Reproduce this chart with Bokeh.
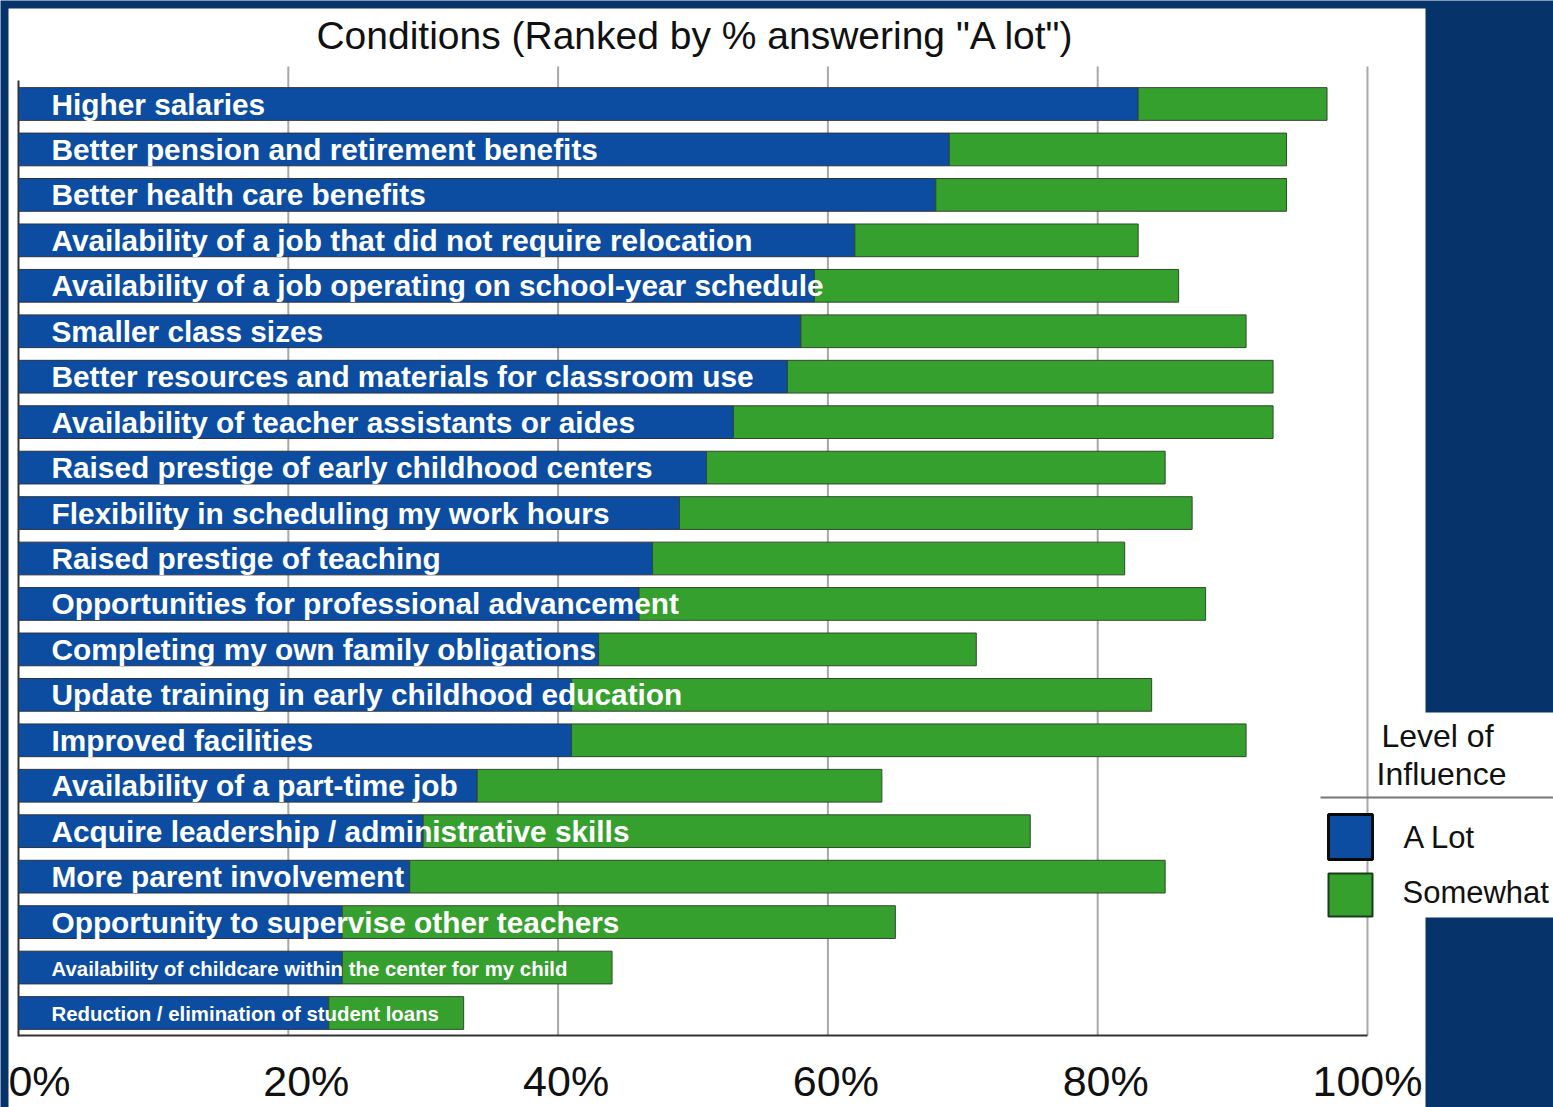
from bokeh.plotting import figure
from bokeh.models import Range1d, ColumnDataSource
from bokeh.core.properties import value
from bokeh.embed import file_html
from bokeh.resources import INLINE

# ---------------- data ----------------
conditions = [
    "Higher salaries",
    "Better pension and retirement benefits",
    "Better health care benefits",
    "Availability of a job that did not require relocation",
    "Availability of a job operating on school-year schedule",
    "Smaller class sizes",
    "Better resources and materials for classroom use",
    "Availability of teacher assistants or aides",
    "Raised prestige of early childhood centers",
    "Flexibility in scheduling my work hours",
    "Raised prestige of teaching",
    "Opportunities for professional advancement",
    "Completing my own family obligations",
    "Update training in early childhood education",
    "Improved facilities",
    "Availability of a part-time job",
    "Acquire leadership / administrative skills",
    "More parent involvement",
    "Opportunity to supervise other teachers",
    "Availability of childcare within the center for my child",
    "Reduction / elimination of student loans",
]
a_lot = [83, 69, 68, 62, 59, 58, 57, 53, 51, 49, 47, 46, 43, 41, 41, 34, 30, 29, 24, 24, 23]
somewhat = [14, 25, 26, 21, 27, 33, 36, 40, 34, 38, 35, 42, 28, 43, 50, 30, 45, 56, 41, 20, 10]
tick_values = [0, 20, 40, 60, 80, 100]
tick_labels = ["0%", "20%", "40%", "60%", "80%", "100%"]
title_text = 'Conditions (Ranked by % answering "A lot")'
legend_title = ["Level of", "Influence"]
legend_items = ["A Lot", "Somewhat"]

# ---------------- styling ----------------
W, H = 1553, 1107
NAVY = "#05336a"
BLUE = "#0c4da2"
GREEN = "#36a02f"
FONT = value("Liberation Sans")

X0, XS = 18.0, 13.49      # px of 0 %, px per %
Y0, YS = 103.5, 45.45     # px of first row centre, px per row


def px2x(px):
    return (px - X0) / XS


def px2y(py):
    return (py - Y0) / YS


p = figure(width=W, height=H, output_backend="svg", toolbar_location=None,
           x_axis_type=None, y_axis_type=None,
           x_range=Range1d(px2x(0), px2x(W)),
           y_range=Range1d(px2y(H), px2y(0)),
           min_border=0, min_border_left=0, min_border_right=0,
           min_border_top=0, min_border_bottom=0)
p.outline_line_color = None
p.background_fill_color = NAVY
p.border_fill_color = NAVY
p.xgrid.visible = False
p.ygrid.visible = False

# white panels
p.quad(left=[px2x(8)], right=[px2x(1425)], top=[px2y(8)], bottom=[px2y(H + 5)],
       fill_color="white", line_color=None)
p.quad(left=[px2x(1320)], right=[px2x(W + 5)], top=[px2y(712)], bottom=[px2y(917)],
       fill_color="white", line_color=None)

# grid lines
grid_x = tick_values[1:]
p.segment(x0=grid_x, x1=grid_x, y0=[px2y(66)] * len(grid_x), y1=[px2y(1035)] * len(grid_x),
          line_color="#a8a8a8", line_width=2)
# axis lines
p.segment(x0=[0], x1=[0], y0=[px2y(80)], y1=[px2y(1036)], line_color="#333333", line_width=2)
p.segment(x0=[0], x1=[100], y0=[px2y(1035)], y1=[px2y(1035)], line_color="#333333", line_width=2)

# bars
rows = list(range(len(conditions)))
totals = [a + s for a, s in zip(a_lot, somewhat)]
src = ColumnDataSource(dict(y=rows, alot=a_lot, total=totals, name=conditions))
p.hbar(y="y", left=0, right="alot", height=0.72, source=src,
       fill_color=BLUE, line_color="#2b3340", line_width=1)
p.hbar(y="y", left="alot", right="total", height=0.72, source=src,
       fill_color=GREEN, line_color="#2f4a2a", line_width=1)

# bar labels
n_big = len(conditions) - 2
p.text(x=[px2x(51)] * n_big, y=rows[:n_big], text=conditions[:n_big],
       text_font=FONT, text_font_style="bold", text_font_size="29.8px",
       text_color="white", text_baseline="middle", text_align="left")
p.text(x=[px2x(51)] * 2, y=rows[n_big:], text=conditions[n_big:],
       text_font=FONT, text_font_style="bold", text_font_size="20.4px",
       text_color="white", text_baseline="middle", text_align="left", y_offset=1)

# title
p.text(x=[px2x(695)], y=[px2y(35)], text=[title_text], text_font=FONT,
       text_font_size="39px", text_color="#111111", text_align="center",
       text_baseline="middle")

# tick labels
tick_offsets = [21, 18, 8, 8, 8, 0]
tsrc = ColumnDataSource(dict(x=tick_values, y=[px2y(1080)] * len(tick_values),
                             t=tick_labels, off=tick_offsets))
p.text(x="x", y="y", text="t", x_offset="off", source=tsrc, text_font=FONT,
       text_font_size="43px", text_color="#111111", text_align="center",
       text_baseline="middle")

# legend
p.text(x=[px2x(1437), px2x(1441)], y=[px2y(735), px2y(773)], text=legend_title,
       text_font=FONT, text_font_size="32px", text_color="#111111",
       text_align="center", text_baseline="middle")
p.segment(x0=[px2x(1320)], x1=[px2x(W + 5)], y0=[px2y(797)], y1=[px2y(797)],
          line_color="#777777", line_width=2)
p.quad(left=[px2x(1328)], right=[px2x(1372)], top=[px2y(814)], bottom=[px2y(859)],
       fill_color=BLUE, line_color="#0a0a0a", line_width=3)
p.quad(left=[px2x(1328)], right=[px2x(1372)], top=[px2y(873)], bottom=[px2y(916)],
       fill_color=GREEN, line_color="#1c3a1c", line_width=2)
p.text(x=[px2x(1403), px2x(1402)], y=[px2y(837), px2y(892)], text=legend_items,
       text_font=FONT, text_font_size="31px", text_color="#111111",
       text_align="left", text_baseline="middle")

open("out.html", "w").write(file_html(p, INLINE))
